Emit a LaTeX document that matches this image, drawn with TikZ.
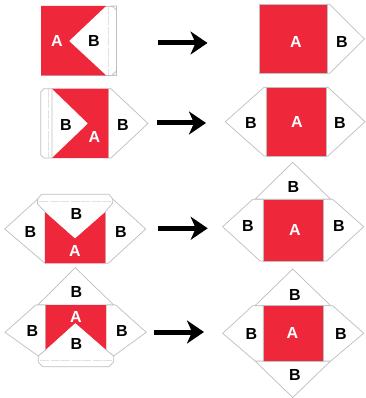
\documentclass[tikz,border=0pt]{standalone}
\usepackage{fontspec}
\setmainfont{Liberation Sans}
\usetikzlibrary{arrows.meta}
\definecolor{sheetred}{RGB}{238,39,59}
\definecolor{edgegray}{RGB}{190,190,190}
\tikzset{
	sheet/.style = {fill=sheetred, draw=edgegray, line width=.5pt},
	redpart/.style = {fill=sheetred},
	flap/.style = {fill=white, draw=edgegray, line width=.7pt, line join=miter},
	crease/.style = {draw=edgegray!45, line width=.6pt, dash pattern=on 9pt off 1.5pt},
	labelA/.style = {font=\bfseries\fontsize{16}{16}\selectfont, text=white, inner sep=0pt},
	labelB/.style = {font=\bfseries\fontsize{16}{16}\selectfont, text=black, inner sep=0pt},
	fold/.style = {line width=5pt, -{Stealth[length=17pt,width=23pt,inset=5pt]}}
}

\begin{document}
\begin{tikzpicture}[x=1pt,y=-1pt]
        \useasboundingbox (0,0) rectangle (365,398);

        % Left column, row 1: one side folded in
        \draw[flap] (41,6) rectangle (116.5,75.3);
        \fill[redpart] (41,6) -- (106,6) -- (69,41) -- (106,75.3) -- (41,75.3) -- cycle;
        \draw[crease] (108.5,6) -- (108.5,75.3);
        \draw[flap] (112,6) -- (116.5,6) -- (116.5,10) -- cycle;
        \draw[flap] (112,75.3) -- (116.5,75.3) -- (116.5,71) -- cycle;
        \node[labelA] (a1) at (57,41) {A};
        \node[labelB] (b1) at (94,41) {B};

        % Left column, row 2: second side folded in
        \draw[flap] (108.3,88.7) -- (111,88.7) -- (148,123.5) -- (111,158) -- (108.3,158) -- cycle;
        \draw[flap] (52,88.7) -- (44,88.7) -- (40.7,92) -- (40.7,155) -- (44,158) -- (52,158) -- cycle;
        \fill[redpart] (52,88.7) -- (108.3,88.7) -- (108.3,158) -- (52,158) -- (88,123.5) -- cycle;
        \draw[crease] (48.5,89) -- (48.5,158);
        \node[labelB] (b2) at (66,125) {B};
        \node[labelA] (a2) at (94.5,137) {A};
        \node[labelB] (c2) at (123,125) {B};

        % Left column, row 3: top side folded in
        \draw[flap] (45,263.3) -- (4.7,229) -- (37.7,199) -- (45,199) -- cycle;
        \draw[flap] (105.3,263.3) -- (108.3,263.3) -- (145.7,229) -- (112.7,199) -- (105.3,199) -- cycle;
        \fill[redpart] (45,211.7) -- (75,238.3) -- (105.3,211.7) -- (105.3,263.3) -- (45,263.3) -- cycle;
        \fill[white] (45,211.7) -- (37.5,204) -- (37.5,199) -- (41.7,194.3) -- (109,194.3) -- (112.7,199) -- (112.7,203) -- (105.3,211.7) -- (75,238.3) -- cycle;
        \draw[flap] (45,211.7) -- (37.5,204) -- (37.5,199) -- (41.7,194.3) -- (109,194.3) -- (112.7,199) -- (112.7,203) -- (105.3,211.7);
        \draw[crease] (39,201.7) -- (111,201.7);
        \node[labelB] (b3) at (76.5,213.5) {B};
        \node[labelB] (c3) at (30.5,232) {B};
        \node[labelB] (d3) at (121,232) {B};
        \node[labelA] (a3) at (75,251) {A};

        % Left column, row 4: bottom side folded in
        \draw[flap] (37.7,305) -- (75.3,267.7) -- (113.7,305) -- cycle;
        \draw[flap] (45.7,305) -- (35.7,305) -- (5,332.3) -- (38.3,356) -- (45.7,350) -- cycle;
        \draw[flap] (106,305) -- (115.7,305) -- (146.3,332.3) -- (113.7,356) -- (106,350) -- cycle;
        \fill[redpart] (45.7,305) -- (106,305) -- (106,350) -- (75.3,323.3) -- (45.7,350) -- cycle;
        \fill[white] (45.7,350) -- (38.3,356) -- (38.3,362) -- (42.7,366.7) -- (109,366.7) -- (113.7,362) -- (113.7,356) -- (106,350) -- (75.3,323.3) -- cycle;
        \draw[flap] (45.7,350) -- (38.3,356) -- (38.3,362) -- (42.7,366.7) -- (109,366.7) -- (113.7,362) -- (113.7,356) -- (106,350);
        \draw[crease] (40,360) -- (112,360);
        \node[labelB] (b4) at (76.5,292) {B};
        \node[labelA] (a4) at (76,317) {A};
        \node[labelB] (c4) at (76.5,343.5) {B};
        \node[labelB] (d4) at (32.5,331) {B};
        \node[labelB] (e4) at (122,331) {B};

        % Right column, row 1
        \draw[flap] (327,4.3) -- (329.7,4.3) -- (364.5,39) -- (329.7,73.3) -- (327,73.3) -- cycle;
        \draw[sheet] (259,4.3) rectangle (327,73.3);
        \node[labelA] (ra1) at (296,42) {A};
        \node[labelB] (rb1) at (342,42) {B};

        % Right column, row 2
        \draw[flap] (266.3,87.3) -- (264,87.3) -- (225.3,121.7) -- (264,156) -- (266.3,156) -- cycle;
        \draw[flap] (326,87.3) -- (328,87.3) -- (365,121.7) -- (328,156) -- (326,156) -- cycle;
        \draw[sheet] (266.3,87.3) rectangle (326,156);
        \node[labelB] (rb2) at (251,123) {B};
        \node[labelA] (ra2) at (297,122) {A};
        \node[labelB] (rc2) at (340,123) {B};

        % Right column, row 3
        \draw[flap] (255,199.3) -- (292.7,162.3) -- (330.7,199.3) -- cycle;
        \draw[flap] (263.3,199.3) -- (252.7,199.3) -- (222.7,226.7) -- (260,261) -- (263.3,261) -- cycle;
        \draw[flap] (323.3,199.3) -- (332.7,199.3) -- (363.7,226.7) -- (326.7,261) -- (323.3,261) -- cycle;
        \draw[sheet] (263.3,199.3) rectangle (323.3,261);
        \node[labelB] (rb3) at (293.5,187) {B};
        \node[labelA] (ra3) at (295,230) {A};
        \node[labelB] (rc3) at (248,226) {B};
        \node[labelB] (rd3) at (339,226) {B};

        % Right column, row 4
        \draw[flap] (255,305.7) -- (292.7,269) -- (330.7,305.7) -- cycle;
        \draw[flap] (255,361) -- (292.7,397.5) -- (330.7,361) -- cycle;
        \draw[flap] (263.3,305.7) -- (252.7,305.7) -- (222.7,333.3) -- (255,361) -- (263.3,361) -- cycle;
        \draw[flap] (323.3,305.7) -- (332.7,305.7) -- (363.7,333.3) -- (330.7,361) -- (323.3,361) -- cycle;
        \draw[sheet] (263.3,305.7) rectangle (323.3,361);
        \node[labelB] (rb4) at (295,295) {B};
        \node[labelA] (ra4) at (292.5,333) {A};
        \node[labelB] (rc4) at (251.5,334) {B};
        \node[labelB] (rd4) at (341,334) {B};
        \node[labelB] (re4) at (295,375) {B};

        % Arrows from left column to right column
        \foreach \k/\xs/\xe/\yk in {1/158/207.5/43, 2/157/206/123, 3/158/207.7/228.3, 4/154.3/204/332}{
            \coordinate (from\k) at (\xs,\yk);
            \coordinate (to\k) at (\xe,\yk);
            \draw[fold] (from\k) -- (to\k);
        }
\end{tikzpicture}
\end{document}
